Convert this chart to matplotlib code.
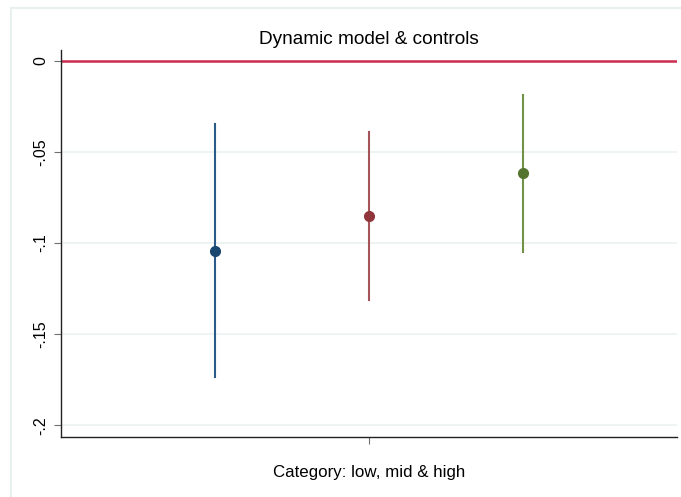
import matplotlib.pyplot as plt
from matplotlib.lines import Line2D

# coefficient estimates with 95% intervals, one per category
groups = ["low", "mid", "high"]
coef = [-0.1043, -0.0851, -0.0617]
ci_low = [-0.1738, -0.1312, -0.1047]
ci_high = [-0.0347, -0.0393, -0.0188]
positions = [1, 2, 3]

yticks = [0, -0.05, -0.1, -0.15, -0.2]
ytick_labels = ["0", "-.05", "-.1", "-.15", "-.2"]

dot_colors = ["#1a476f", "#90353b", "#55752f"]
bar_colors = ["#2b5b89", "#a5545a", "#719247"]

plt.rcParams["font.family"] = ["Liberation Sans", "DejaVu Sans"]

fig = plt.figure(figsize=(6.81, 4.97), dpi=100)
ax = fig.add_axes([0.0896, 0.1213, 0.9046, 0.7781])

# faint outer frame (only top and left edges fall inside the image)
frame_color = "#e8f0f0"
fig.add_artist(Line2D([11 / 681, 1], [1 - 8 / 497, 1 - 8 / 497], color=frame_color, lw=1.5))
fig.add_artist(Line2D([11 / 681, 11 / 681], [0, 1 - 8 / 497], color=frame_color, lw=1.5))

for y in yticks[1:]:
    ax.axhline(y, color="#edf2f3", lw=1.3, zorder=0)
ax.axhline(0, color="#cc2b4f", lw=1.8, zorder=1)

for x, c, lo, hi, dc, bc in zip(positions, coef, ci_low, ci_high, dot_colors, bar_colors):
    ax.plot([x, x], [lo, hi], color=bc, lw=1.5, zorder=2)
    ax.plot(x, c, "o", color=dc, markersize=7, zorder=3)

ax.set_xlim(0, 4)
ax.set_ylim(-0.2063, 0.0059)
ax.set_xticks([2])
ax.set_xticklabels([""])
ax.set_yticks(yticks)
ax.set_yticklabels(ytick_labels, rotation=90, va="center", fontsize=11.5)
ax.tick_params(axis="y", length=5, color="#707070", pad=4)
ax.tick_params(axis="x", length=5, color="#707070")

for side in ["top", "right"]:
    ax.spines[side].set_visible(False)
for side in ["left", "bottom"]:
    ax.spines[side].set_color("#222222")
    ax.spines[side].set_linewidth(1.0)

ax.set_title("Dynamic model & controls", fontsize=13.7, pad=4)
ax.set_xlabel("Category: low, mid & high", fontsize=12.2, labelpad=12)

fig.savefig("out.png", dpi=100, facecolor="white")
